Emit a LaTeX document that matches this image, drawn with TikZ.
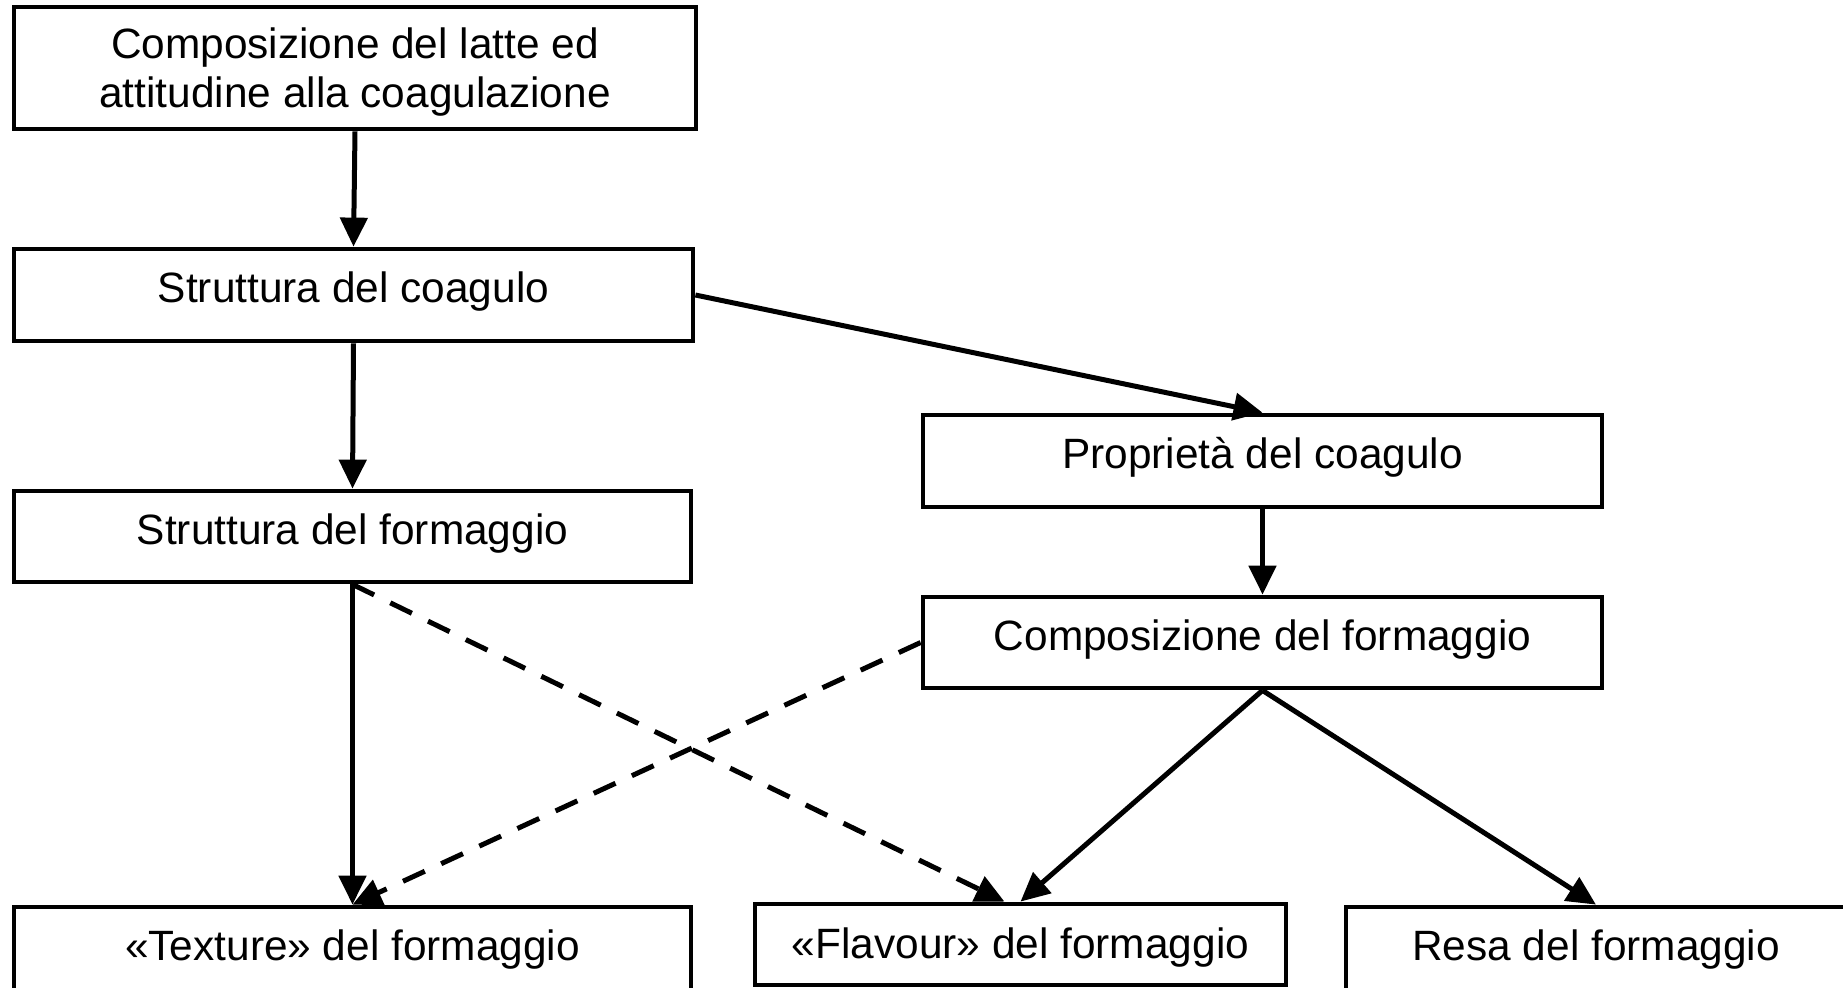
\documentclass[tikz,border=0pt]{standalone}
\usepackage{fontspec}
\setmainfont{Liberation Sans}
\usepackage{tikz}
\usetikzlibrary{calc,arrows.meta}

\begin{document}
\begin{tikzpicture}[x=0.5pt, y=-0.5pt,
        blocco/.style={draw, line width=2.4pt, inner sep=0pt, align=center,
            font=\fontsize{21.2}{24.5}\selectfont},
        riga/.style={blocco, text height=15pt, text depth=7.5pt},
        freccia/.style={line width=2.5pt, -{Triangle[length=14.5pt, width=13.5pt]}},
        tratteggio/.style={freccia, dash pattern=on 12pt off 9pt}]

        % Cadre
        \useasboundingbox (0,0) rectangle (1843,987);

        % Blocs de gauche
        \node[blocco, text depth=0pt, minimum width=341pt, minimum height=61pt] (latte) at (355,68)
            {Composizione del latte ed\\attitudine alla coagulazione};
        \node[riga, minimum width=339.5pt, minimum height=46pt] (coagulo) at (353.5,295) {Struttura del coagulo};
        \node[riga, minimum width=338.5pt, minimum height=45.5pt] (struttura) at (352.5,536.5) {Struttura del formaggio};

        % Blocs de droite
        \node[riga, minimum width=339.5pt, minimum height=46pt] (proprieta) at (1262.5,461) {Proprietà del coagulo};
        \node[riga, minimum width=339.5pt, minimum height=45.5pt] (compform) at (1262.5,642.5) {Composizione del formaggio};

        % Blocs du bas
        \node[riga, minimum width=338.5pt, minimum height=46pt] (texture) at (352.5,953) {«Texture» del formaggio};
        \node[blocco, text depth=1pt, minimum width=265.5pt, minimum height=40.5pt] (flavour) at (1020.5,944.5) {«Flavour» del formaggio};
        \node[riga, minimum width=250pt, minimum height=46pt] (resa) at (1596,953) {Resa del formaggio};

        % Flèches pleines
        \draw[freccia] (latte.south) -- (coagulo.north);
        \draw[freccia] (coagulo.east) -- (proprieta.north);
        \draw[freccia] (coagulo.south) -- (struttura.north);
        \draw[freccia] (proprieta.south) -- (compform.north);
        \draw[freccia] (struttura.south) -- (texture.north);
        \draw[freccia] (compform.south) -- (flavour.north);
        \draw[freccia] (compform.south) -- (resa.north);

        % Flèches pointillées
        \draw[tratteggio] (struttura.south) -- ($(flavour.north)+(-16,0)$);
        \draw[tratteggio] (compform.west) -- (texture.north);

    \end{tikzpicture}
\end{document}
